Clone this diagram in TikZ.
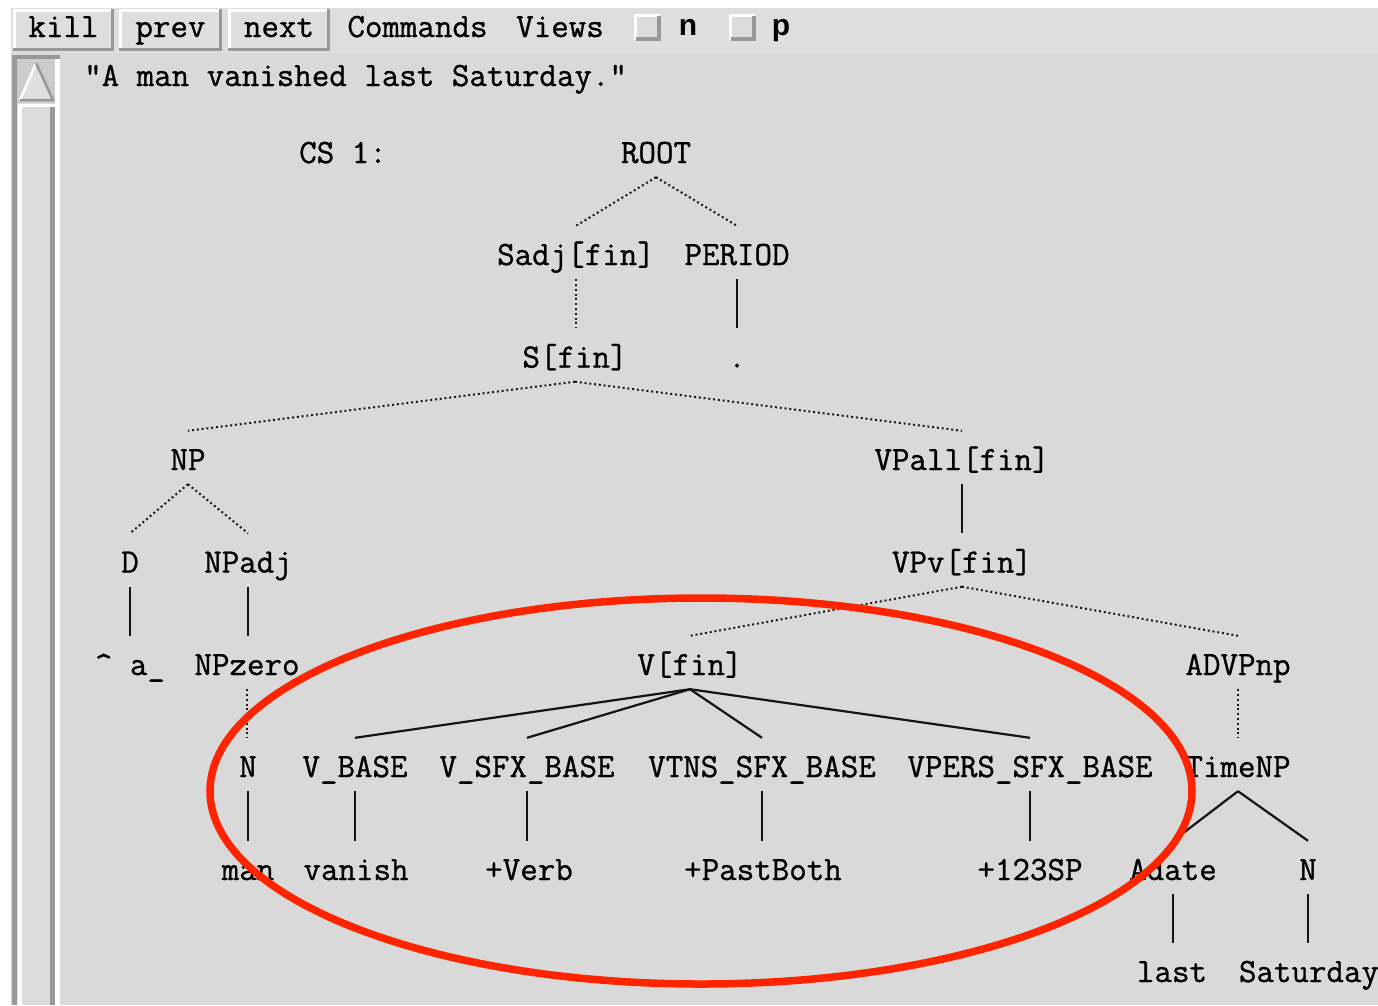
\documentclass[tikz,border=0pt]{standalone}
\usepackage{fontspec}
\newfontfamily\uisans{Liberation Sans}
\newfontfamily\treefont{Latin Modern Mono}[FakeBold=0.9]
\usetikzlibrary{calc}
\definecolor{bgmain}{RGB}{217,217,217}
\definecolor{bgbar}{RGB}{222,222,222}
\definecolor{shadec}{RGB}{152,152,152}
\definecolor{facec}{RGB}{220,220,220}
\definecolor{arrowc}{RGB}{204,204,204}
\definecolor{markred}{RGB}{255,36,0}
\begin{document}
\begin{tikzpicture}[x=1pt,y=-1pt,
  lbl/.style={font=\treefont\fontsize{34}{40}\selectfont, text height=31pt, text depth=6pt,
    inner xsep=0pt, inner ysep=8pt, anchor=base},
  plain/.style={font=\treefont\fontsize{34}{40}\selectfont, inner sep=0pt, anchor=base},
  dots/.style={line width=2pt, dash pattern=on 2pt off 2.8pt, draw=black!90},
  stroke/.style={line width=2.2pt, draw=black!92},
  btn/.style={font=\treefont\fontsize{34}{40}\selectfont, fill=bgbar, text height=20pt, text depth=6pt,
    inner sep=0pt, minimum height=42pt},
  chk/.style={fill=facec, minimum size=27pt, inner sep=0pt},
  hiln/.style={line width=3pt, draw=white},
  shln/.style={line width=3.5pt, draw=shadec},
  ring/.style={line width=7.5pt, draw=markred}
]
\useasboundingbox (0,0) rectangle (1378,1005);
\fill[white] (0,0) rectangle (1378,1005);
\fill[bgmain] (11,8) rectangle (1378,1005);
\fill[bgbar] (11,8) rectangle (1378,53);

% toolbar
\node[btn, minimum width=101pt] (kill) at (63.5,30) {kill};
\node[btn, minimum width=103pt] (prev) at (170.5,30) {prev};
\node[btn, minimum width=102pt] (next) at (279,30) {next};
\foreach \b in {kill,prev,next}{
  \draw[hiln] ([shift={(1.5,-1.5)}]\b.south west) -- ([shift={(1.5,1.5)}]\b.north west) -- ([shift={(-1.5,1.5)}]\b.north east);
  \draw[shln] ([shift={(0,-1.75)}]\b.south west) -- ([shift={(-1.75,-1.75)}]\b.south east) -- ([shift={(-1.75,0)}]\b.north east);
}
\node[plain] (cmds) at (417.5,37) {Commands};
\node[plain] (views) at (560,37) {Views};
\node[chk] (cbn) at (647.5,27.5) {};
\node[chk] (cbp) at (742.5,27.5) {};
\foreach \b in {cbn,cbp}{
  \draw[hiln] ([shift={(1.5,-1.5)}]\b.south west) -- ([shift={(1.5,1.5)}]\b.north west) -- ([shift={(-1.5,1.5)}]\b.north east);
  \draw[shln,line width=4pt] ([shift={(2,-2)}]\b.south west) -- ([shift={(-2,-2)}]\b.south east) -- ([shift={(-2,2)}]\b.north east);
}
\node[anchor=base, inner sep=0pt, font=\uisans\bfseries\fontsize{30}{34}\selectfont] (nlab) at (688,35) {n};
\node[anchor=base, inner sep=0pt, font=\uisans\bfseries\fontsize{30}{34}\selectfont] (plab) at (781,35) {p};

% scrollbar
\fill[facec] (12,55) rectangle (60,1005);
\fill[shadec] (12,55) rectangle (17,1005);
\fill[shadec] (12,55) rectangle (60,59);
\fill[white] (55,59) rectangle (60,1005);
\fill[arrowc] (17,59) rectangle (55,103);
\fill[facec!90] (21,99) -- (36,64) -- (52,99) -- cycle;
\draw[white, line width=2.5pt] (20,100) -- (36,63);
\draw[shadec, line width=2.5pt] (36,63) -- (53,100) -- (20,100);
\fill[facec] (17,104) rectangle (55,1005);
\fill[white] (18,104) rectangle (22,1005);
\fill[white] (18,104) rectangle (55,107);
\fill[shadec] (50,107) rectangle (55,1005);

% sentence
\node[plain, anchor=base west] (sent) at (84,86) {"A man vanished last Saturday."};
\node[plain] (cs) at (343,163) {CS 1:};

% tree nodes
\node[lbl] (root) at (656,163) {ROOT};
\node[lbl] (sadj) at (576,265) {Sadj[fin]};
\node[lbl] (period) at (737,265) {PERIOD};
\node[lbl] (s) at (575,367.5) {S[fin]};
\node[lbl] (dot) at (737,367.5) {.};
\node[lbl] (np) at (188,470) {NP};
\node[lbl] (vpall) at (962,470) {VPall[fin]};
\node[lbl] (d) at (130,572.5) {D};
\node[lbl] (npadj) at (248,572.5) {NPadj};
\node[lbl] (vpv) at (962,572.5) {VPv[fin]};
\node[lbl] (a) at (130,675) {\textasciicircum{} a\_};
\node[lbl] (npzero) at (247,675) {NPzero};
\node[lbl] (vfin) at (690,675) {V[fin]};
\node[lbl] (advp) at (1238,675) {ADVPnp};
\node[lbl] (n) at (248,777) {N};
\node[lbl] (vbase) at (355,777) {V\_BASE};
\node[lbl] (vsfx) at (527,777) {V\_SFX\_BASE};
\node[lbl] (vtns) at (762,777) {VTNS\_SFX\_BASE};
\node[lbl] (vpers) at (1030,777) {VPERS\_SFX\_BASE};
\node[lbl] (timenp) at (1238,777) {TimeNP};
\node[lbl] (man) at (248,880) {man};
\node[lbl] (vanish) at (356,880) {vanish};
\node[lbl] (verb) at (529,880) {+Verb};
\node[lbl] (past) at (763,880) {+PastBoth};
\node[lbl] (sp) at (1030,880) {+123SP};
\node[lbl] (adate) at (1173,880) {Adate};
\node[lbl] (n2) at (1308,880) {N};
\node[lbl] (last) at (1172,982) {last};
\node[lbl] (sat) at (1309,982) {Saturday};

% connectors
\draw[dots] (root.south) -- (sadj.north);
\draw[dots] (root.south) -- (period.north);
\draw[dots] (sadj.south) -- (sadj.south |- s.north);
\draw[stroke] (period.south) -- (period.south |- dot.north);
\draw[dots] (s.south) -- (np.north);
\draw[dots] (s.south) -- (vpall.north);
\draw[dots] (np.south) -- (d.north);
\draw[dots] (np.south) -- (npadj.north);
\draw[stroke] (vpall.south) -- (vpall.south |- vpv.north);
\draw[stroke] (d.south) -- (d.south |- a.north);
\draw[stroke] (npadj.south) -- (npadj.south |- npzero.north);
\draw[dots] (vpv.south) -- (vfin.north);
\draw[dots] (vpv.south) -- (advp.north);
\draw[dots] (npzero.south) -- (npzero.south |- n.north);
\draw[stroke] (vfin.south) -- (vbase.north);
\draw[stroke] (vfin.south) -- (vsfx.north);
\draw[stroke] (vfin.south) -- (vtns.north);
\draw[stroke] (vfin.south) -- (vpers.north);
\draw[dots] (advp.south) -- (advp.south |- timenp.north);
\draw[stroke] (n.south) -- (n.south |- man.north);
\draw[stroke] (vbase.south) -- (vbase.south |- vanish.north);
\draw[stroke] (vsfx.south) -- (vsfx.south |- verb.north);
\draw[stroke] (vtns.south) -- (vtns.south |- past.north);
\draw[stroke] (vpers.south) -- (vpers.south |- sp.north);
\draw[stroke] (timenp.south) -- (adate.north);
\draw[stroke] (timenp.south) -- (n2.north);
\draw[stroke] (adate.south) -- (adate.south |- last.north);
\draw[stroke] (n2.south) -- (n2.south |- sat.north);

% red ellipse
\draw[ring] (701,791) ellipse [x radius=491pt, y radius=193pt];
\end{tikzpicture}
\end{document}
